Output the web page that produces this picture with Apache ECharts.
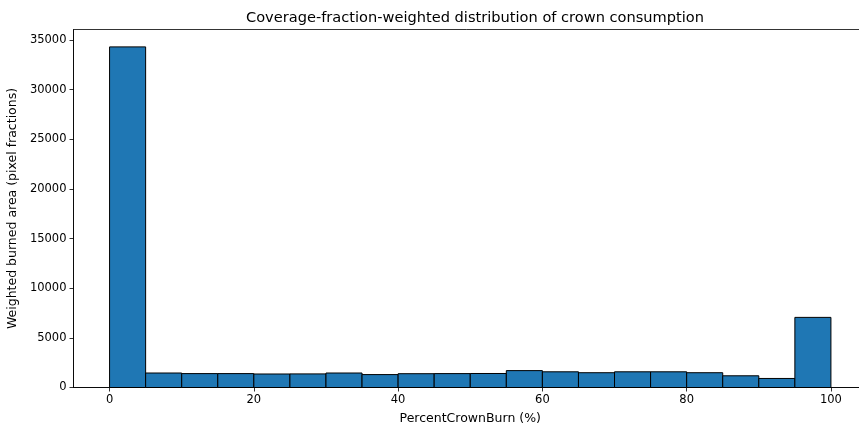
<!DOCTYPE html>
<html><head><meta charset="utf-8">
<script src="https://cdn.jsdelivr.net/npm/echarts@6/dist/echarts.min.js"></script>
<style>html,body{margin:0;padding:0;background:#fff}#c{width:859px;height:426px}</style>
</head><body><div id="c"></div>
<script>
const binEdges = [0,5,10,15,20,25,30,35,40,45,50,55,60,65,70,75,80,85,90,95,100];
const counts = [34300,1460,1400,1400,1360,1370,1460,1300,1390,1400,1410,1700,1580,1490,1580,1580,1490,1180,910,7060];
const xTicks = [0,20,40,60,80,100];
const yTicks = [0,5000,10000,15000,20000,25000,30000,35000];

const data = counts.map((v,i)=>[binEdges[i], binEdges[i+1], v]);
const font = 'DejaVu Sans';
const chart = echarts.init(document.getElementById('c'), null, {renderer:'canvas'});
chart.setOption({
  backgroundColor:'#fff',
  animation:false,
  title:{text:'Coverage-fraction-weighted distribution of crown consumption', left:470, top:6, textAlign:'center',
    textStyle:{fontFamily:font,fontSize:14.6,fontWeight:'normal',color:'#000'}},
  grid:{left:73.5, right:-8, top:29.5, bottom:38.5, show:true, borderColor:'#000', borderWidth:0.8, backgroundColor:'transparent',
    containLabel:false, outerBoundsMode:'none'},
  xAxis:{type:'value', min:-5, max:105,
    name:'PercentCrownBurn (%)', nameLocation:'middle', nameGap:25,
    nameTextStyle:{fontFamily:font,fontSize:12.5,color:'#000'},
    axisLine:{show:true,onZero:false,lineStyle:{color:'#000',width:0.8}},
    axisTick:{show:true,inside:false,length:4,lineStyle:{color:'#000',width:0.8},customValues:xTicks},
    axisLabel:{fontFamily:font,fontSize:11.5,color:'#000',margin:7,customValues:xTicks,formatter:v=>String(v)},
    splitLine:{show:false}},
  yAxis:{type:'value', min:0, max:36050,
    name:'Weighted burned area (pixel fractions)', nameLocation:'middle', nameGap:53, nameRotate:90,
    nameTextStyle:{fontFamily:font,fontSize:12.5,color:'#000'},
    axisLine:{show:true,onZero:false,lineStyle:{color:'#000',width:0.8}},
    axisTick:{show:true,inside:false,length:4,lineStyle:{color:'#000',width:0.8},customValues:yTicks},
    axisLabel:{fontFamily:font,fontSize:11.5,color:'#000',margin:7,customValues:yTicks,formatter:v=>String(v)},
    splitLine:{show:false}},
  series:[{type:'custom', data:data, encode:{x:[0,1],y:2},
    renderItem:function(params, api){
      const p0 = api.coord([api.value(0), api.value(2)]);
      const p1 = api.coord([api.value(1), 0]);
      return {type:'rect', shape:{x:p0[0], y:p0[1], width:p1[0]-p0[0], height:p1[1]-p0[1]},
        style:{fill:'#1f77b4', stroke:'#000', lineWidth:1}};
    }}]
});
</script></body></html>
